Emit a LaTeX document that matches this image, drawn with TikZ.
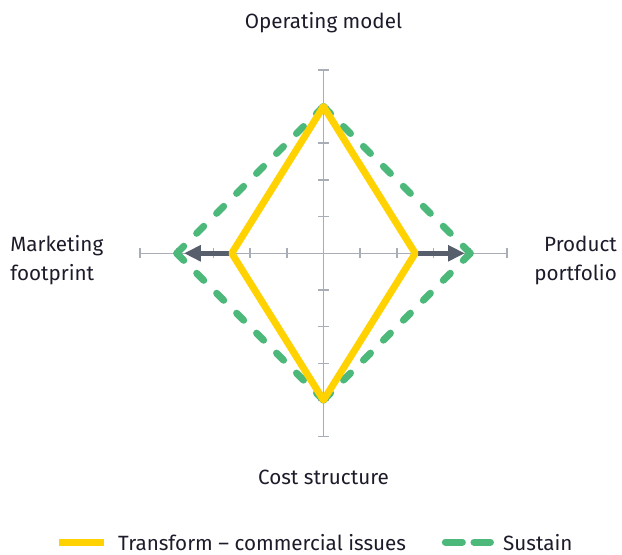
\documentclass[tikz,border=0pt]{standalone}
\usepackage{fontspec}
\setmainfont{Fira Sans}
\usetikzlibrary{arrows.meta}

\definecolor{eyyellow}{HTML}{FFD200}
\definecolor{eygreen}{HTML}{4CB97B}
\definecolor{eyarrow}{HTML}{565F6B}
\definecolor{eyaxis}{HTML}{A9AEB6}
\definecolor{eytext}{HTML}{1B1B2A}

\tikzset{
  axisline/.style={draw=eyaxis, line width=1.1pt},
  transformline/.style={draw=eyyellow, line width=5.4pt, line join=round},
  sustainline/.style={draw=eygreen, line width=5.4pt, line cap=round,
                      dash pattern=on 7.75pt off 14.13pt},
  shiftarrow/.style={draw=eyarrow, line width=3.9pt, -{Triangle[length=13pt,width=12pt]}},
  axislabel/.style={font=\fontsize{16}{22}\selectfont, text=eytext, inner sep=0pt},
}

\begin{document}
\begin{tikzpicture}[x=1cm,y=1cm]
\def\ax{5} % half length of each axis
\def\tk{0.14} % half length of a tick
\def\yw{2.5} % transform, half width
\def\yh{4} % transform, half height
\def\gw{4} % sustain, half width
\def\gh{4} % sustain, half height

\useasboundingbox (-8.815,-8.221) rectangle (8.134,6.902);

% axes
\coordinate (axL) at (-\ax,0);
\coordinate (axR) at (\ax,0);
\coordinate (axT) at (0,\ax);
\coordinate (axB) at (0,-\ax);
\draw[axisline] (axL) -- (axR);
\draw[axisline] (axB) -- (axT);
\foreach \i in {-5,...,-1,1,2,...,5}{
  \draw[axisline] (\i,-\tk) -- (\i,\tk);
  \draw[axisline] (-\tk,\i) -- (\tk,\i);
}

% corners of the two shapes
\coordinate (yT) at (0,\yh);
\coordinate (yB) at (0,-\yh);
\coordinate (yL) at (-\yw,0);
\coordinate (yR) at (\yw,0);
\coordinate (gT) at (0,\gh);
\coordinate (gB) at (0,-\gh);
\coordinate (gL) at (-\gw,0);
\coordinate (gR) at (\gw,0);
\coordinate (tipL) at (-3.8,0);
\coordinate (tipR) at (3.85,0);

% shift from transform to sustain
\draw[shiftarrow] (yL) -- (tipL);
\draw[shiftarrow] (yR) -- (tipR);

% one edge at a time, so that every corner gets a dash
\draw[sustainline] (gT) -- (gR);
\draw[sustainline] (gR) -- (gB);
\draw[sustainline] (gB) -- (gL);
\draw[sustainline] (gL) -- (gT);
\draw[transformline] (yT) -- (yR) -- (yB) -- (yL) -- cycle;

% axis names
\node[axislabel, anchor=base] (opmodel) at (0,6.13) {Operating model};
\node[axislabel, anchor=base] (coststr) at (0,-6.31) {Cost structure};
\node[axislabel, align=left, anchor=base west] (mktfoot) at (-8.54,-0.73) {Marketing\\footprint};
\node[axislabel, align=right, anchor=base east] (prodport) at (8.0,-0.73) {Product\\portfolio};

% legend
\coordinate (legYa) at (-7.21,-7.87);
\coordinate (legYb) at (-5.98,-7.87);
\coordinate (legGa) at (3.32,-7.87);
\coordinate (legGb) at (4.55,-7.87);
\draw[draw=eyyellow, line width=5.4pt] (legYa) -- (legYb);
\draw[draw=eygreen, line width=5.4pt, line cap=round, dash pattern=on 13.2pt off 9pt] (legGa) -- (legGb);
\node[axislabel, anchor=base west] (legtrans) at (-5.60,-8.11) {Transform – commercial issues};
\node[axislabel, anchor=base west] (legsust) at (4.89,-8.11) {Sustain};

\end{tikzpicture}
\end{document}
